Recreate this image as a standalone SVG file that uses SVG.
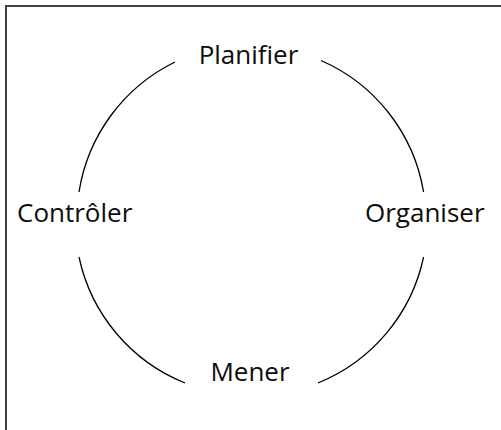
<svg xmlns="http://www.w3.org/2000/svg" width="501" height="430" viewBox="0 0 501 430">
  <style>
    .frame { fill: none; stroke: #404040; stroke-width: 2; }
    .arc { fill: none; stroke: #000; stroke-width: 1.3; }
    .label { font-family: "Open Sans", "Noto Sans", "DejaVu Sans", sans-serif; font-size: 26px; fill: #0d0d0d; }
  </style>
  <rect width="501" height="430" fill="#fff"/>
  <!-- page frame (left and top edges) -->
  <path class="frame" d="M6,430 V6 H501"/>

  <!-- cycle arcs between the four stages -->
  <g id="connectors">
    <path class="arc" d="M321,60.5 A175,175 0 0 1 423.6,192"/>
    <path class="arc" d="M423.6,257 A175,175 0 0 1 318,383"/>
    <path class="arc" d="M185,383 A175,175 0 0 1 79,257"/>
    <path class="arc" d="M79,192 A175,175 0 0 1 175,62"/>
  </g>

  <g id="planifier">
    <text class="label" x="248.5" y="64" text-anchor="middle">Planifier</text>
  </g>
  <g id="organiser">
    <text class="label" x="365" y="222">Organiser</text>
  </g>
  <g id="mener">
    <text class="label" x="250" y="381" text-anchor="middle">Mener</text>
  </g>
  <g id="controler">
    <text class="label" x="17" y="222">Contrôler</text>
  </g>
</svg>
